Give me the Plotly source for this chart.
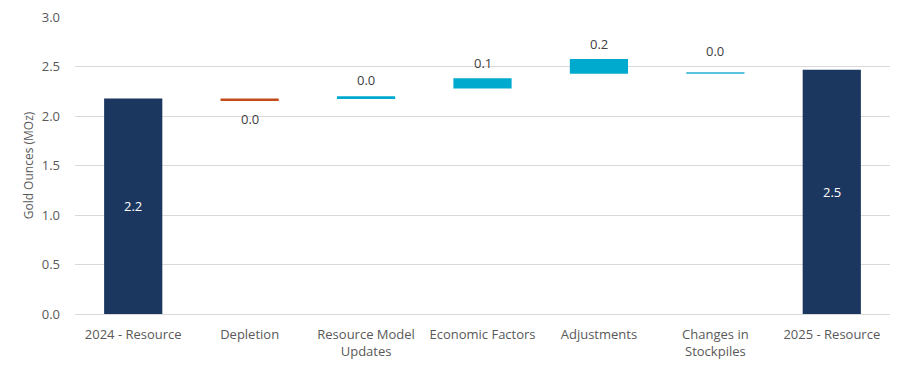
import plotly.graph_objects as go

categories = ["2024 - Resource", "Depletion", "Resource Model<br>Updates", "Economic Factors",
              "Adjustments", "Changes in<br>Stockpiles", "2025 - Resource"]
bar_base = [0.0, 2.155, 2.175, 2.28, 2.43, 2.43, 0.0]
bar_height = [2.18, 0.025, 0.028, 0.105, 0.15, 0.008, 2.47]
value_labels = ["2.2", "0.0", "0.0", "0.1", "0.2", "0.0", "2.5"]
y_ticks = [0.0, 0.5, 1.0, 1.5, 2.0, 2.5, 3.0]

bar_colors = ["#1C375F", "#C44A1B", "#00A9CE", "#00A9CE", "#00A9CE", "#5CC3DC", "#1C375F"]
label_mode = ["inside", "below", "above", "above", "above", "above", "inside"]
label_shift = [0, -18, 16, 15, 15, 22, 0]

FONT = "Open Sans"

fig = go.Figure()
fig.add_trace(go.Bar(
    x=list(range(len(categories))), y=bar_height, base=bar_base,
    marker=dict(color=bar_colors, line=dict(width=0)),
    width=0.5, hoverinfo="skip", showlegend=False,
))

for i, lab in enumerate(value_labels):
    top = bar_base[i] + bar_height[i]
    if label_mode[i] == "inside":
        fig.add_annotation(x=i, y=(bar_base[i] + top) / 2, text=lab, showarrow=False,
                           font=dict(family=FONT, size=13, color="#FFFFFF"))
    elif label_mode[i] == "below":
        fig.add_annotation(x=i, y=bar_base[i], text=lab, showarrow=False, yshift=label_shift[i],
                           yanchor="middle", font=dict(family=FONT, size=13, color="#404040"))
    else:
        fig.add_annotation(x=i, y=top, text=lab, showarrow=False, yshift=label_shift[i],
                           yanchor="middle", font=dict(family=FONT, size=13, color="#404040"))

fig.update_layout(
    width=907, height=372,
    margin=dict(l=67, r=25, t=9, b=66),
    paper_bgcolor="white", plot_bgcolor="white",
    font=dict(family=FONT, size=13, color="#595959"),
    bargap=0.5,
)
fig.update_xaxes(
    range=[-0.5, len(categories) - 0.5], automargin=False,
    tickmode="array", tickvals=list(range(len(categories))), ticktext=categories,
    showgrid=False, zeroline=False, showline=False, ticks="", ticklabelstandoff=11,
    tickfont=dict(family=FONT, size=13, color="#595959"), tickangle=0,
)
fig.update_yaxes(
    range=[0, 3.004], tickmode="array", tickvals=y_ticks, automargin=False,
    ticktext=[f"{v:.1f}" for v in y_ticks],
    showgrid=True, gridcolor="#D9D9D9", gridwidth=1,
    zeroline=True, zerolinecolor="#D9D9D9", zerolinewidth=1,
    showline=False, ticks="", ticklabelstandoff=14, ticklabeloverflow="allow",
    tickfont=dict(family=FONT, size=13, color="#595959"),
    title=dict(text="Gold Ounces (MOz)", font=dict(family=FONT, size=12, color="#595959"), standoff=5),
)

fig.write_html("out.html")
